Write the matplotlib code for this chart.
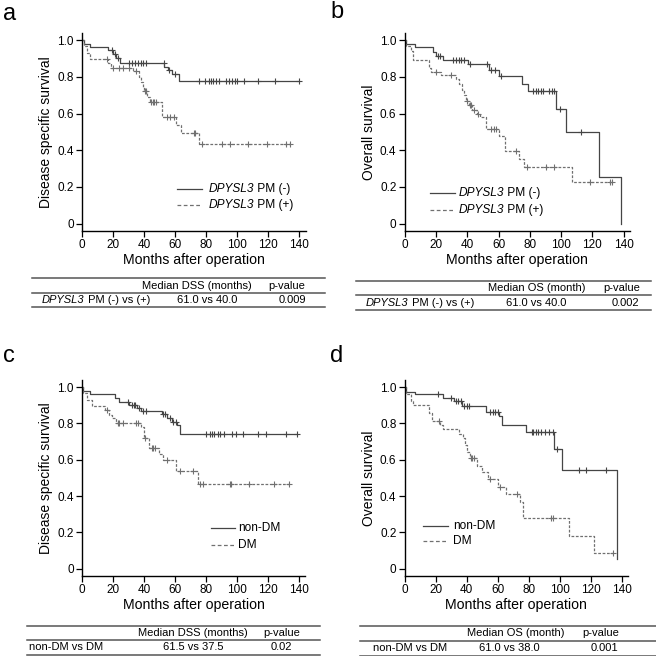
import numpy as np
import matplotlib.pyplot as plt
from matplotlib.lines import Line2D
from matplotlib.offsetbox import TextArea, HPacker, AnnotationBbox

plt.rcParams['font.family'] = ['Liberation Sans', 'DejaVu Sans']

# ---- panel a: DSS by DPYSL3 PM ----
a_neg_t = [0, 1, 5, 17, 20, 22, 24.5, 53, 55.5, 58, 62.5]
a_neg_s = [1.0, 0.98, 0.963, 0.945, 0.925, 0.905, 0.874, 0.855, 0.835, 0.815, 0.778]
a_neg_c = [19, 21, 23, 30, 32, 34, 36, 38, 39.5, 41, 52.5, 56, 60, 75.5, 79.5, 81.5,
           83, 84.5, 86, 88, 92.5, 94.5, 96.5, 98.5, 100, 104, 113.5, 124, 139.5]
a_pos_t = [0, 1, 3, 5, 17, 18.5, 33, 37, 38, 39, 40, 42, 44, 51.8, 60.4, 63.8, 75]
a_pos_s = [1.0, 0.97, 0.93, 0.896, 0.873, 0.85, 0.83, 0.80, 0.77, 0.745, 0.723, 0.69,
           0.663, 0.583, 0.54, 0.496, 0.432]
a_pos_c = [16, 20, 23.5, 26.5, 30, 35, 40.5, 41.5, 44.5, 45.5, 46.5, 47.5, 54.5, 56.5,
           59, 72, 73, 77, 90, 95.5, 107, 119, 131.5, 134]

# ---- panel b: OS by DPYSL3 PM ----
b_neg_t = [0, 0.5, 6.4, 18, 20, 24.4, 40.3, 53.6, 60.5, 75.3, 79, 96.6, 102.9, 124, 138.5]
b_neg_s = [1.0, 0.98, 0.964, 0.937, 0.915, 0.892, 0.869, 0.838, 0.805, 0.76, 0.724,
           0.622, 0.499, 0.252, 0.0]
b_neg_c = [21, 22.5, 30.8, 33, 34.6, 36.1, 37.6, 41.8, 52.4, 55, 57.7, 61.5, 82.3, 83.8,
           85.5, 87, 88.5, 92.3, 94.4, 95.8, 99.3, 113.1]
b_pos_t = [0, 1, 4, 5.3, 15.7, 17, 23.5, 32.5, 35, 36.5, 38, 39, 41, 43, 46, 48, 51.7,
           60.5, 64.3, 73.3, 76.5, 107.3]
b_pos_s = [1.0, 0.97, 0.94, 0.892, 0.85, 0.829, 0.809, 0.79, 0.76, 0.73, 0.70, 0.67,
           0.645, 0.62, 0.60, 0.58, 0.513, 0.48, 0.396, 0.35, 0.31, 0.229]
b_pos_c = [20.2, 29.8, 40, 41.8, 42.5, 44, 47, 55, 57, 58.6, 71.5, 78, 90.7, 95.4,
           118.3, 131.3, 132.7]

# ---- panel c: DSS by DM ----
c_neg_t = [0, 0.5, 5.2, 21, 24, 30.5, 35.2, 38, 51.4, 55, 57.9, 61.6, 63.4]
c_neg_s = [1.0, 0.978, 0.96, 0.938, 0.919, 0.90, 0.887, 0.87, 0.852, 0.828, 0.81, 0.79, 0.742]
c_neg_c = [29.4, 32, 33.5, 34.5, 37, 39.7, 41, 52.3, 53.6, 56.5, 59, 60.5, 80, 82.7, 84,
           85.5, 87.7, 89.4, 92, 97, 99.2, 104, 113.7, 118.7, 131.7, 138.7]
c_pos_t = [0, 0.5, 3, 6.3, 15, 17.4, 19.5, 21.7, 37.8, 40, 43.3, 49.7, 52.2, 60.5, 74.7]
c_pos_s = [1.0, 0.97, 0.93, 0.897, 0.875, 0.846, 0.83, 0.804, 0.78, 0.718, 0.663, 0.63,
           0.60, 0.538, 0.467]
c_pos_c = [16.3, 23, 24, 26.2, 34.9, 36.4, 40.5, 45, 46, 47, 54.7, 63, 71.4, 76.2, 77.9,
           95.3, 96, 107.9, 123.9, 133.9]

# ---- panel d: OS by DM ----
d_neg_t = [0, 1, 6.4, 24.4, 31.8, 37.1, 52.6, 61, 63, 78.5, 96.1, 101.8, 137]
d_neg_s = [1.0, 0.975, 0.96, 0.941, 0.925, 0.896, 0.863, 0.84, 0.79, 0.753, 0.658, 0.544, 0.055]
d_neg_c = [21.2, 29.7, 33, 34.6, 36, 38.2, 40.3, 41.8, 54.8, 57, 58.5, 60.2, 82, 83, 84.5,
           86, 88, 90.5, 93, 95.5, 98.2, 112.5, 117.3, 129.9]
d_pos_t = [0, 1, 4, 5.3, 15.5, 17.4, 22.5, 24.8, 35, 37.6, 39, 40, 42, 46.7, 49.9, 54,
           60, 65.4, 74.5, 76.6, 106.1, 122]
d_pos_s = [1.0, 0.96, 0.923, 0.901, 0.86, 0.813, 0.791, 0.768, 0.74, 0.72, 0.68, 0.64,
           0.61, 0.566, 0.53, 0.496, 0.45, 0.414, 0.37, 0.279, 0.181, 0.086]
d_pos_c = [22.3, 42.5, 43.5, 45, 55, 61.8, 72.5, 94.2, 95.5, 134.6]

ends = {'a': (139.5, 134), 'b': (138.5, 132.7), 'c': (138.7, 133.9), 'd': (137, 134.6)}

xticks = [0, 20, 40, 60, 80, 100, 120, 140]
yticks = [0, 0.2, 0.4, 0.6, 0.8, 1.0]
ytick_labels = ['0', '0.2', '0.4', '0.6', '0.8', '1.0']

# legend / table labels as (text, style) pieces
lab_pm = [[('DPYSL3', 'italic'), (' PM (-)', 'normal')],
          [('DPYSL3', 'italic'), (' PM (+)', 'normal')]]
lab_dm = [[('non-DM', 'normal')], [('DM', 'normal')]]

SOLID = '#454545'
DASH = '#707070'
H = 656.0


def km(ax, t, s, cens, end, **kw):
    t = list(t) + [end]
    s = list(s) + [s[-1]]
    ax.step(t, s, where='post', lw=0.9, **kw)
    idx = np.searchsorted(np.array(t), np.array(cens), side='right') - 1
    ax.plot(cens, np.array(s)[idx], ls='none', marker='+', ms=5, mew=0.8,
            color=kw['color'])


def setup(ax, ylabel):
    ax.set_xlim(0, 144)
    ax.set_ylim(-0.04, 1.04)
    ax.spines['top'].set_visible(False)
    ax.spines['right'].set_visible(False)
    for sp in ['left', 'bottom']:
        ax.spines[sp].set_linewidth(1.0)
    ax.set_xticks(xticks)
    ax.set_yticks(yticks)
    ax.set_yticklabels(ytick_labels)
    ax.tick_params(labelsize=8.5, length=4, width=0.9, pad=2)
    ax.set_xlabel('Months after operation', fontsize=10.2, labelpad=1.5)
    ax.set_ylabel(ylabel, fontsize=10, labelpad=3)


def rich(x, y, parts, size, align=0.0):
    boxes = [TextArea(txt, textprops=dict(fontsize=size, style=st)) for txt, st in parts]
    pack = HPacker(children=boxes, align='baseline', pad=0, sep=0)
    ab = AnnotationBbox(pack, (x, H - y), xycoords='figure pixels',
                        box_alignment=(align, 0.5), frameon=False, pad=0)
    fig.add_artist(ab)


fig = plt.figure(figsize=(6.56, 6.56), dpi=100)

# rect, ylabel, data, legend labels, legend geometry (line x0, x1, text x, row y1, row y2)
panels = [
    ('a', [0.125, 0.648, 0.341, 0.302], 'Disease specific survival',
     (a_neg_t, a_neg_s, a_neg_c), (a_pos_t, a_pos_s, a_pos_c), lab_pm,
     (177, 202, 209, 189, 205)),
    ('b', [0.617, 0.648, 0.343, 0.302], 'Overall survival',
     (b_neg_t, b_neg_s, b_neg_c), (b_pos_t, b_pos_s, b_pos_c), lab_pm,
     (430, 455, 459, 193, 210)),
    ('c', [0.125, 0.122, 0.340, 0.299], 'Disease specific survival',
     (c_neg_t, c_neg_s, c_neg_c), (c_pos_t, c_pos_s, c_pos_c), lab_dm,
     (211, 235, 238, 528, 545)),
    ('d', [0.617, 0.122, 0.340, 0.299], 'Overall survival',
     (d_neg_t, d_neg_s, d_neg_c), (d_pos_t, d_pos_s, d_pos_c), lab_dm,
     (423, 448, 453, 526, 541)),
]

for key, rect, ylabel, neg, pos, labels, lg in panels:
    ax = fig.add_axes(rect)
    e1, e2 = ends[key]
    km(ax, neg[0], neg[1], neg[2], e1, color=SOLID)
    km(ax, pos[0], pos[1], pos[2], e2, color=DASH, dashes=(2.2, 1.3))
    setup(ax, ylabel)
    lx0, lx1, tx, y1, y2 = lg
    fig.add_artist(Line2D([lx0 / H, lx1 / H], [1 - y1 / H] * 2, color=SOLID, lw=0.9))
    fig.add_artist(Line2D([lx0 / H, lx1 / H], [1 - y2 / H] * 2, color=DASH, lw=0.9,
                          dashes=(3, 2)))
    rich(tx, y1, labels[0], 8.6)
    rich(tx, y2, labels[1], 8.6)

# panel letters
letters = ['a', 'b', 'c', 'd']
letter_xy = [(0.005, 0.979), (0.503, 0.981), (0.005, 0.457), (0.503, 0.457)]
for lt, (x, y) in zip(letters, letter_xy):
    fig.text(x, y, lt, fontsize=17, ha='left', va='center')

# tables under each panel
tab_headers = [('Median DSS (months)', 'p-value'), ('Median OS (month)', 'p-value'),
               ('Median DSS (months)', 'p-value'), ('Median OS (month)', 'p-value')]
tab_groups = [[('DPYSL3', 'italic'), (' PM (-) vs (+)', 'normal')],
              [('DPYSL3', 'italic'), (' PM (-) vs (+)', 'normal')],
              [('non-DM vs DM', 'normal')], [('non-DM vs DM', 'normal')]]
tab_medians = ['61.0 vs 40.0', '61.0 vs 40.0', '61.5 vs 37.5', '61.0 vs 38.0']
tab_pvalues = ['0.009', '0.002', '0.02', '0.001']

# pixel geometry: (x0, x1, lines y, group x, median x, p x, header median x, header p x)
tab_geo = [
    (32, 325, (278, 293, 307), 42, 207, 292, 197, 287),
    (356, 651, (281, 295, 310), 366, 536, 625, 537, 622),
    (27, 320, (626, 640, 654.5), 29, 193, 281, 193, 282),
    (360, 656, (626, 641, 655.5), 373, 509, 604, 516, 601),
]
TS = 8
for i, (x0, x1, ys, gx, mx, px, hmx, hpx) in enumerate(tab_geo):
    for y in ys:
        fig.add_artist(Line2D([x0 / H, x1 / H], [1 - y / H, 1 - y / H], color='#555555',
                              lw=1.1))
    yh = 1 - (ys[0] + ys[1]) / 2 / H
    yr = (ys[1] + ys[2]) / 2
    fig.text(hmx / H, yh, tab_headers[i][0], fontsize=TS, ha='center', va='center')
    fig.text(hpx / H, yh, tab_headers[i][1], fontsize=TS, ha='center', va='center')
    rich(gx, yr, tab_groups[i], TS)
    fig.text(mx / H, 1 - yr / H, tab_medians[i], fontsize=TS, ha='center', va='center')
    fig.text(px / H, 1 - yr / H, tab_pvalues[i], fontsize=TS, ha='center', va='center')

fig.savefig('out.png', dpi=100)
